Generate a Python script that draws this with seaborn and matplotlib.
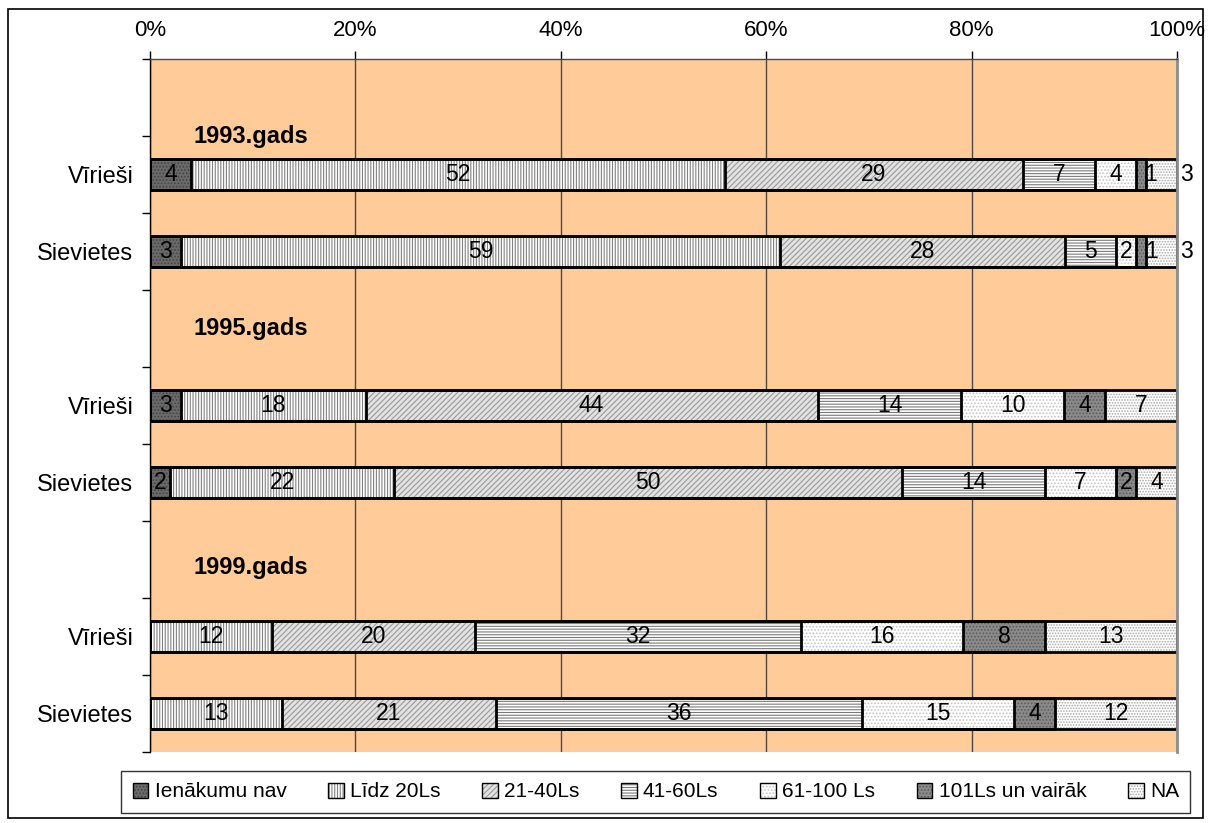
import numpy as np
import pandas as pd
import matplotlib
matplotlib.use("Agg")
import matplotlib.pyplot as plt
from matplotlib.patches import Patch, Rectangle
import seaborn as sns

# Dati (procenti katrā grupā)
kategorijas = ["Ienākumu nav", "Līdz 20Ls", "21-40Ls", "41-60Ls", "61-100 Ls", "101Ls un vairāk", "NA"]
gadi = ["1993.gads", "1995.gads", "1999.gads"]
grupas = ["Vīrieši", "Sievietes"]

viriesi_1993 = [4, 52, 29, 7, 4, 1, 3]
sievietes_1993 = [3, 59, 28, 5, 2, 1, 3]
viriesi_1995 = [3, 18, 44, 14, 10, 4, 7]
sievietes_1995 = [2, 22, 50, 14, 7, 2, 4]
viriesi_1999 = [0, 12, 20, 32, 16, 8, 13]
sievietes_1999 = [0, 13, 21, 36, 15, 4, 12]

dati = {
    "1993.gads": (viriesi_1993, sievietes_1993),
    "1995.gads": (viriesi_1995, sievietes_1995),
    "1999.gads": (viriesi_1999, sievietes_1999),
}

# raksti katrai kategorijai: (fona krāsa, svītrojums, svītrojuma krāsa)
stili = [
    ("#6a6a6a", ".....", "#444444"),
    ("#ffffff", "||||||", "#808080"),
    ("#e2e2e2", "//////", "#9a9a9a"),
    ("#ffffff", "------", "#7a7a7a"),
    ("#ffffff", ".....", "#c4c4c4"),
    ("#8a8a8a", ".....", "#5e5e5e"),
    ("#ffffff", "......", "#a8a8a8"),
]

sns.set_theme(style="white")
plt.rcParams["font.family"] = ["Liberation Sans", "DejaVu Sans"]
plt.rcParams["hatch.linewidth"] = 0.8
plt.rcParams["text.color"] = "black"
plt.rcParams["xtick.color"] = "black"
plt.rcParams["ytick.color"] = "black"
plt.rcParams["xtick.labelcolor"] = "black"
plt.rcParams["ytick.labelcolor"] = "black"

rindas = []
for gads in gadi:
    for grupa, vert in zip(grupas, dati[gads]):
        vert = np.array(vert, dtype=float)
        proc = vert / vert.sum() * 100
        cum = np.cumsum(proc)
        r = {"rinda": f"{gads} {grupa}", "grupa": grupa}
        for j in range(len(kategorijas)):
            r[f"c{j}"] = cum[j]
            r[f"p{j}"] = proc[j]
            r[f"v{j}"] = vert[j]
        rindas.append(r)
df = pd.DataFrame(rindas)

seciba = []
for gads in gadi:
    seciba += [gads, f"{gads} Vīrieši", f"{gads} Sievietes"]

fig = plt.figure(figsize=(12.1, 8.23), dpi=100)
ax = fig.add_axes([150 / 1210, 1 - 752 / 823, 1027 / 1210, 693 / 823])
ax.set_facecolor("#ffcc99")

# uzkrātie stabiņi, no garākā uz īsāko
for j in reversed(range(len(kategorijas))):
    fc, htch, hc = stili[j]
    sns.barplot(data=df, x=f"c{j}", y="rinda", order=seciba, orient="h",
                width=0.4, color=fc, saturation=1, errorbar=None,
                hatch=htch, edgecolor=hc, linewidth=0, ax=ax)
for j in reversed(range(len(kategorijas))):
    sns.barplot(data=df, x=f"c{j}", y="rinda", order=seciba, orient="h",
                width=0.4, color="black", fill=False, errorbar=None,
                linewidth=2, ax=ax)

# vērtību uzraksti
for _, r in df.iterrows():
    y = seciba.index(r["rinda"])
    sauri = r["p5"] < 1.5
    for j in range(len(kategorijas)):
        if r[f"v{j}"] <= 0:
            continue
        x = r[f"c{j}"] - r[f"p{j}"] / 2
        dx, ha = 0, "center"
        if sauri and j == 5:
            dx = 7
        if sauri and j == 6:
            x, dx, ha = 100, 2, "left"
        ax.annotate(f"{int(r[f'v{j}'])}", (x, y), xytext=(dx, 0),
                    textcoords="offset points", ha=ha, va="center",
                    fontsize=16.5, color="black")

# gadu virsraksti
for gads, gy in zip(gadi, [0.5, 3.0, 6.1]):
    ax.text(9.8, gy, gads, ha="center", va="center", fontsize=17,
            fontweight="bold", color="black")

ax.set_xlim(0, 100)
ax.set_ylim(8.5, -0.5)
ax.xaxis.tick_top()
ax.set_xticks(np.arange(0, 101, 20))
ax.set_xticklabels([f"{t}%" for t in range(0, 101, 20)], fontsize=16, color="black")
ax.tick_params(axis="x", which="major", direction="out", length=6, width=1,
               color="black", pad=7, top=True, bottom=False)
ax.set_xlabel("")
ax.set_ylabel("")

bar_y = [i for i, s in enumerate(seciba) if s not in gadi]
ax.set_yticks(np.arange(-0.5, 9, 1))
ax.set_yticklabels([])
ax.tick_params(axis="y", which="major", direction="out", length=6, width=1,
               color="black", left=True)
ax.set_yticks(bar_y, minor=True)
ax.set_yticklabels([seciba[i].split(" ", 1)[1] for i in bar_y], minor=True,
                   fontsize=17, color="black")
ax.tick_params(axis="y", which="minor", length=0, pad=12)

ax.grid(axis="x", color="#4a4a4a", linewidth=1)
ax.grid(axis="y", visible=False)
ax.set_axisbelow(True)
ax.spines["left"].set_color("black")
ax.spines["left"].set_linewidth(1)
ax.spines["top"].set_color("#4a4a4a")
ax.spines["top"].set_linewidth(1)
ax.spines["right"].set_color("#8c8c8c")
ax.spines["right"].set_linewidth(2)
ax.spines["bottom"].set_visible(False)

# leģenda
rokturi = []
for fc, htch, hc in stili:
    rokturi.append((Patch(facecolor=fc, hatch=htch, edgecolor=hc, linewidth=0),
                    Patch(facecolor="none", edgecolor="black", linewidth=1)))
leg = fig.legend(rokturi, kategorijas, loc="center", bbox_to_anchor=(0.542, 0.0377),
                 ncol=7, fontsize=15, frameon=True, fancybox=False,
                 edgecolor="black", handlelength=0.75, handleheight=0.75,
                 handletextpad=0.3, columnspacing=2.0, borderpad=0.55)
leg.get_frame().set_linewidth(1)
for t in leg.get_texts():
    t.set_color("black")

# ārējais rāmis
fig.patches.append(Rectangle((8 / 1210, 5 / 823), 1195 / 1210, 809 / 823,
                             transform=fig.transFigure, fill=False,
                             edgecolor="black", linewidth=1.2))

fig.savefig("out.png", dpi=100, facecolor="white")
